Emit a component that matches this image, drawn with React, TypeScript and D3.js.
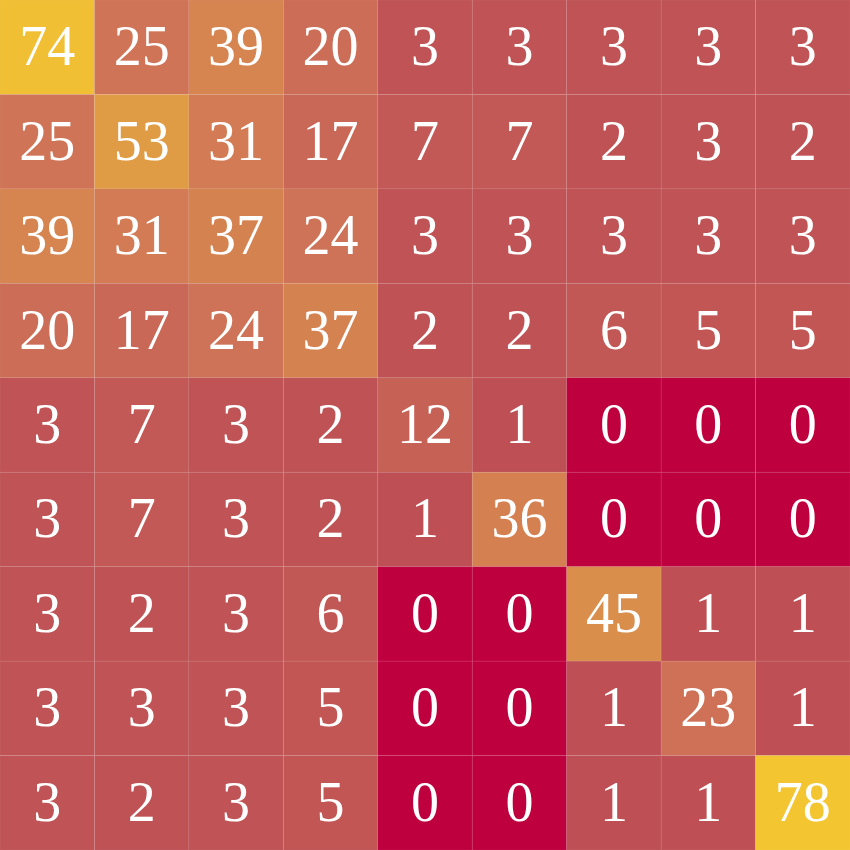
import React from 'react';
import * as d3 from 'd3';

// confusion-style matrix, rows top -> bottom
const row0 = [74, 25, 39, 20, 3, 3, 3, 3, 3];
const row1 = [25, 53, 31, 17, 7, 7, 2, 3, 2];
const row2 = [39, 31, 37, 24, 3, 3, 3, 3, 3];
const row3 = [20, 17, 24, 37, 2, 2, 6, 5, 5];
const row4 = [3, 7, 3, 2, 12, 1, 0, 0, 0];
const row5 = [3, 7, 3, 2, 1, 36, 0, 0, 0];
const row6 = [3, 2, 3, 6, 0, 0, 45, 1, 1];
const row7 = [3, 3, 3, 5, 0, 0, 1, 23, 1];
const row8 = [3, 2, 3, 5, 0, 0, 1, 1, 78];

const matrix = [row0, row1, row2, row3, row4, row5, row6, row7, row8];

const size = 850;
const zeroColor = '#BF003F';

const App = () => {
  const n = matrix.length;
  const x = d3.scaleBand<number>().domain(d3.range(n)).range([0, size]);
  const y = d3.scaleBand<number>().domain(d3.range(n)).range([0, size]);

  const color = d3.scaleLinear<string>()
    .domain([1, 25, 40, 78])
    .range(['#BE5055', '#CF7457', '#D6854F', '#F3C631'])
    .interpolate(d3.interpolateRgb)
    .clamp(true);

  const fill = (v: number) => (v === 0 ? zeroColor : color(v));
  const bw = x.bandwidth();

  return (
    <svg
      width={size}
      height={size}
      style={{ position: 'absolute', left: 0, top: 0, display: 'block' }}
    >
      {matrix.map((row, i) =>
        row.map((v, j) => (
          <g key={`${i}-${j}`}>
            <rect
              x={x(j)}
              y={y(i)}
              width={bw}
              height={bw}
              fill={fill(v)}
              stroke="rgba(255,255,255,0.05)"
              strokeWidth={1}
            />
            <text
              x={(x(j) as number) + bw / 2}
              y={(y(i) as number) + bw / 2 + 18}
              textAnchor="middle"
              fill="#fff"
              fontFamily="'Liberation Serif', serif"
              fontSize={56}
            >
              {v}
            </text>
          </g>
        ))
      )}
    </svg>
  );
};

export default App;
